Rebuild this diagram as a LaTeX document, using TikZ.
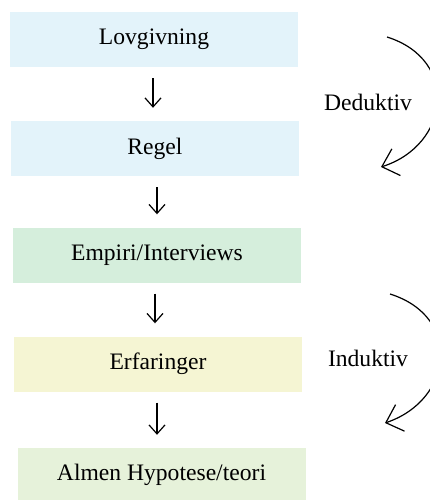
\documentclass[tikz,border=0pt]{standalone}
\usepackage{fontspec}
\setmainfont{Liberation Serif}
\usetikzlibrary{arrows.meta}
\definecolor{cblue}{HTML}{E3F3FA}
\definecolor{cgreen}{HTML}{D5EEDC}
\definecolor{cyellow}{HTML}{F5F5D3}
\definecolor{clgreen}{HTML}{E6F2DA}
\begin{document}
\begin{tikzpicture}[x=1pt,y=-1pt,
  box/.style={minimum width=288pt,minimum height=55pt,inner sep=0pt,font=\fontsize{23.6}{28}\selectfont},
  lbl/.style={font=\fontsize{23.6}{28}\selectfont},
  downarrow/.style={line width=1.2pt,-{Straight Barb[length=9pt,width=16pt]},shorten <=11pt,shorten >=13pt},
  curvearrow/.style={line width=1.2pt,-{Straight Barb[length=15pt,width=28pt]}}]
\useasboundingbox (0,0) rectangle (430,500);
\clip (0,0) rectangle (430,500);
\node[box,fill=cblue] (b1) at (154,39.5) {Lovgivning};
\node[box,fill=cblue] (b2) at (155,148.5) {Regel};
\node[box,fill=cgreen] (b3) at (157,255) {Empiri/Interviews};
\node[box,fill=cyellow] (b4) at (158,364) {Erfaringer};
\node[box,fill=clgreen,minimum height=54pt] (b5) at (161.5,475) {Almen Hypotese/teori};
\draw[downarrow] ([xshift=-1pt]b1.south) -- ([xshift=-1pt]b1.south |- b2.north);
\draw[downarrow] ([xshift=2pt]b2.south) -- ([xshift=2pt]b2.south |- b3.north);
\draw[downarrow] ([xshift=-2pt]b3.south) -- ([xshift=-2pt]b3.south |- b4.north);
\draw[downarrow] ([xshift=-1pt]b4.south) -- ([xshift=-1pt]b4.south |- b5.north);
\coordinate (d1) at (387,37);
\coordinate (d2) at (381,167);
\coordinate (i1) at (390,294);
\coordinate (i2) at (385,423);
\draw[curvearrow] (d1) .. controls (460,60) and (450,145) .. (d2);
\draw[curvearrow] (i1) .. controls (463,317) and (453,400) .. (i2);
\node[lbl] (ded) at (368,102) {Deduktiv};
\node[lbl] (ind) at (368,358) {Induktiv};
\end{tikzpicture}
\end{document}
